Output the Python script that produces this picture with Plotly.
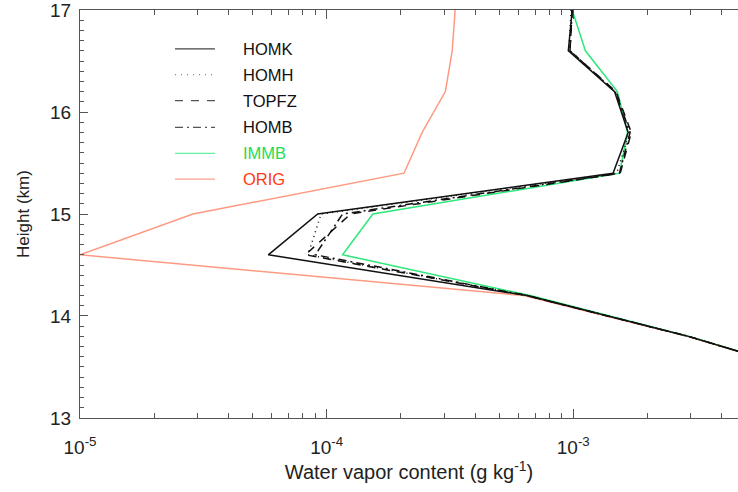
import plotly.graph_objects as go

heights = [17.0, 16.6, 16.2, 15.8, 15.4, 15.0, 14.6, 14.2, 13.8, 13.4]

HOMK  = [9.9e-4, 9.55e-4, 1.47e-3, 1.67e-3, 1.45e-3, 9.2e-5, 5.8e-5, 6.5e-4, 2.93e-3, 1.05e-2]
HOMH  = [9.8e-4, 9.6e-4, 1.48e-3, 1.69e-3, 1.50e-3, 9.5e-5, 8.4e-5, 6.5e-4, 2.93e-3, 1.05e-2]
TOPFZ = [9.9e-4, 9.7e-4, 1.49e-3, 1.72e-3, 1.55e-3, 1.25e-4, 8.2e-5, 6.5e-4, 2.93e-3, 1.05e-2]
HOMB  = [9.9e-4, 9.7e-4, 1.48e-3, 1.70e-3, 1.54e-3, 1.16e-4, 9.0e-5, 6.5e-4, 2.93e-3, 1.05e-2]
IMMB  = [9.9e-4, 1.12e-3, 1.51e-3, 1.66e-3, 1.54e-3, 1.54e-4, 1.16e-4, 6.7e-4, 2.95e-3, 1.06e-2]
ORIG  = [3.32e-4, 3.23e-4, 3.03e-4, 2.44e-4, 2.06e-4, 2.87e-5, 1.0e-5, 6.3e-4, 2.9e-3, 1.05e-2]

names = ["HOMK", "HOMH", "TOPFZ", "HOMB", "IMMB", "ORIG"]
series = [HOMK, HOMH, TOPFZ, HOMB, IMMB, ORIG]
line_colors = ["#111111", "#111111", "#111111", "#111111", "#2ee87a", "#ff9a82"]
legend_line_colors = ["#444444", "#888888", "#555555", "#555555", "#66f0a0", "#ffa090"]
text_colors = ["#111111", "#111111", "#111111", "#111111", "#22dd55", "#ff3a10"]
dashes = ["solid", "1px,4px", "8px,7px", "8px,4px,2px,4px", "solid", "solid"]
legend_dashes = ["solid", "1px,5px", "8px,8px", "8px,4px,2px,4px", "solid", "solid"]

xtick_vals = [1e-5, 1e-4, 1e-3]
xtick_text = ["10<sup>-5</sup>", "10<sup>-4</sup>", "10<sup>-3</sup>"]
xminor_vals = [m * 10.0 ** e for e in (-5, -4, -3) for m in range(2, 10)]
ytick_vals = [13, 14, 15, 16, 17]
yminor_vals = [round(13 + 0.1 * k, 1) for k in range(41) if k % 10 != 0]

FONT = "Liberation Sans, Arial, sans-serif"
AX = "#555555"
XR = [-5, -2.332]
YR = [12.9999, 17.0001]

fig = go.Figure()
for i in [5, 4, 3, 2, 1, 0]:
    fig.add_trace(go.Scatter(
        x=series[i], y=heights, mode="lines", name=names[i],
        line=dict(color=line_colors[i], width=1.5, dash=dashes[i]),
        showlegend=False,
    ))

# empty helper traces so the overlay tick axes are drawn
for xa, ya in [("x2", "y"), ("x3", "y"), ("x4", "y"), ("x", "y2")]:
    fig.add_trace(go.Scatter(x=[None], y=[None], xaxis=xa, yaxis=ya, mode="lines",
                             showlegend=False, hoverinfo="skip"))

# manual legend (layout positions in pixels of the 738x492 page)
W, H = 738, 492
L, R, T, B = 80, 0, 8, 74
pw, ph = W - L - R, H - T - B
leg_rows_px = [47, 73, 99, 126, 152, 178]
leg_line_px = (175, 215)
leg_text_px = 241
for i, name in enumerate(names):
    yp = (H - B - leg_rows_px[i]) / ph
    fig.add_shape(type="line", xref="paper", yref="paper",
                  x0=(leg_line_px[0] - L) / pw, x1=(leg_line_px[1] - L) / pw,
                  y0=yp, y1=yp,
                  line=dict(color=legend_line_colors[i], width=1.2, dash=legend_dashes[i]))
    fig.add_annotation(xref="paper", yref="paper",
                       x=(leg_text_px - L) / pw, y=yp, xanchor="left", yanchor="middle",
                       text=name, showarrow=False,
                       font=dict(family=FONT, size=16.5, color=text_colors[i]))

common = dict(showgrid=False, zeroline=False, tickwidth=1, tickcolor=AX, ticks="inside")

fig.update_layout(
    width=W, height=H,
    margin=dict(l=L, r=R, t=T, b=B),
    plot_bgcolor="white", paper_bgcolor="white",
    font=dict(family=FONT, size=16, color="#222222"),
    showlegend=False,
    xaxis=dict(
        type="log", range=XR, tickmode="array", tickvals=xtick_vals, ticktext=xtick_text,
        ticklen=9, showline=True, linecolor=AX, linewidth=1, mirror="ticks",
        ticklabelstandoff=12, tickfont=dict(size=19),
        title=dict(text="Water vapor content (g kg<sup>-1</sup>)", font=dict(size=20), standoff=3),
        **common),
    xaxis2=dict(type="log", range=XR, overlaying="x", side="bottom", anchor="y",
                tickmode="array", tickvals=xminor_vals, ticklen=5, showticklabels=False,
                showline=False, **common),
    xaxis3=dict(type="log", range=XR, overlaying="x", side="top", anchor="y",
                tickmode="array", tickvals=xtick_vals, ticklen=9, showticklabels=False,
                showline=True, linecolor=AX, linewidth=1, **common),
    xaxis4=dict(type="log", range=XR, overlaying="x", side="top", anchor="y",
                tickmode="array", tickvals=xminor_vals, ticklen=5, showticklabels=False,
                showline=False, **common),
    yaxis=dict(
        range=YR, tickmode="array", tickvals=ytick_vals, ticklen=8,
        showline=True, linecolor=AX, linewidth=1,
        ticklabelstandoff=4, tickfont=dict(size=19), ticklabeloverflow="allow",
        title=dict(text="Height (km)", font=dict(size=17), standoff=16),
        **common),
    yaxis2=dict(range=YR, overlaying="y", side="left", anchor="x",
                tickmode="array", tickvals=yminor_vals, ticklen=4, showticklabels=False,
                showline=False, **common),
)

fig.write_html("out.html")
